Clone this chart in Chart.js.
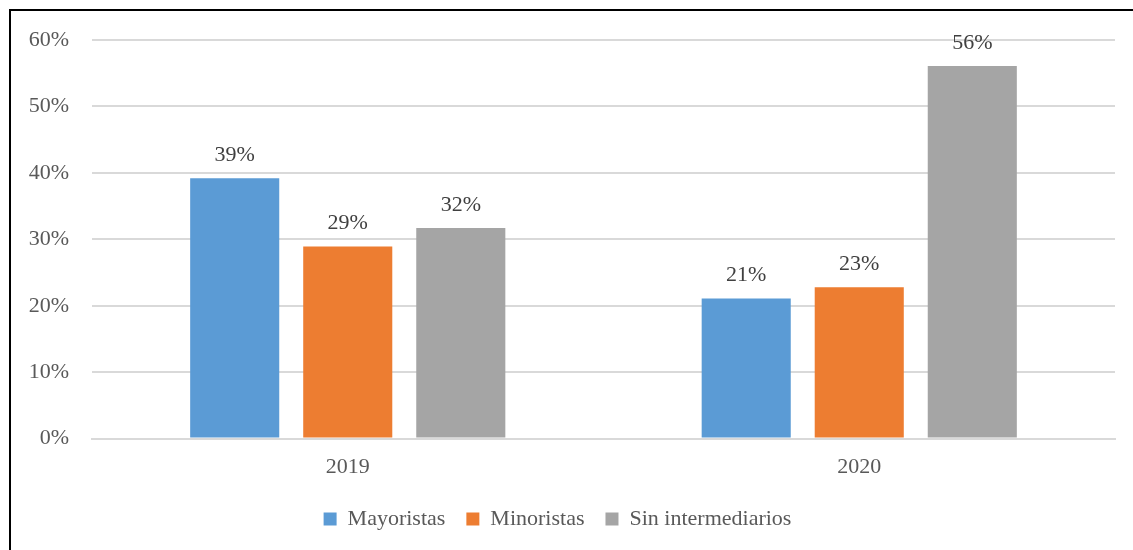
<!DOCTYPE html>
<html>
<head>
<meta charset="utf-8">
<script src="https://cdn.jsdelivr.net/npm/chart.js@4.4.1/dist/chart.umd.min.js"></script>
<style>
  html, body { margin: 0; padding: 0; background: #fff; }
  #wrap { position: relative; width: 1133px; height: 550px; }
  #frame {
    position: absolute; left: 9px; top: 9px; right: 0; bottom: 0;
    border-left: 2px solid #000; border-top: 2px solid #000;
    pointer-events: none;
  }
</style>
</head>
<body>
<div id="wrap">
  <canvas id="chart" width="1133" height="550"></canvas>
  <div id="frame"></div>
</div>
<script>
// data
const years = ['2019', '2020'];
const mayoristas = [39.2, 21.1];
const minoristas = [28.9, 22.8];
const sinIntermediarios = [31.7, 56.1];

const yTicks = [0, 10, 20, 30, 40, 50, 60];

const FONT = "'Liberation Serif', 'Times New Roman', serif";

// labels above each bar
const barLabels = {
    id: 'barLabels',
    afterDatasetsDraw(chart) {
        const ctx = chart.ctx;
        ctx.save();
        ctx.font = '22px ' + FONT;
        ctx.fillStyle = '#404040';
        ctx.textAlign = 'center';
        ctx.textBaseline = 'bottom';
        chart.data.datasets.forEach((ds, i) => {
            chart.getDatasetMeta(i).data.forEach((bar, j) => {
                ctx.fillText(Math.round(ds.data[j]) + '%', bar.x, bar.y - 12);
            });
        });
        ctx.restore();
    }
};

const ctx = document.querySelector('#chart').getContext('2d');

new Chart(ctx, {
    type: 'bar',
    data: {
        labels: years,
        datasets: [
            { label: 'Mayoristas', data: mayoristas, backgroundColor: '#5B9BD5' },
            { label: 'Minoristas', data: minoristas, backgroundColor: '#ED7D31' },
            { label: 'Sin intermediarios', data: sinIntermediarios, backgroundColor: '#A5A5A5' }
        ]
    },
    options: {
        responsive: false,
        animation: false,
        layout: { padding: { top: 40, right: 18, left: 0, bottom: 10 } },
        datasets: {
            bar: { categoryPercentage: 0.663, barPercentage: 0.788 }
        },
        plugins: {
            legend: {
                position: 'bottom',
                labels: {
                    font: { family: FONT, size: 22 },
                    color: '#595959',
                    boxWidth: 13,
                    boxHeight: 13,
                    padding: 21
                }
            },
            tooltip: { enabled: false }
        },
        scales: {
            x: {
                grid: { display: false },
                border: { color: '#D9D9D9', width: 2 },
                ticks: {
                    font: { family: FONT, size: 22 },
                    color: '#595959',
                    padding: 7
                }
            },
            y: {
                min: 0,
                max: 60,
                afterFit(scale) { scale.width = 92; },
                afterBuildTicks(scale) { scale.ticks = yTicks.map(v => ({ value: v })); },
                border: { display: false },
                grid: { color: '#D9D9D9', lineWidth: 2, drawTicks: false },
                ticks: {
                    font: { family: FONT, size: 22 },
                    color: '#595959',
                    padding: 23,
                    callback: v => v + '%'
                }
            }
        }
    },
    plugins: [barLabels]
});
</script>
</body>
</html>
